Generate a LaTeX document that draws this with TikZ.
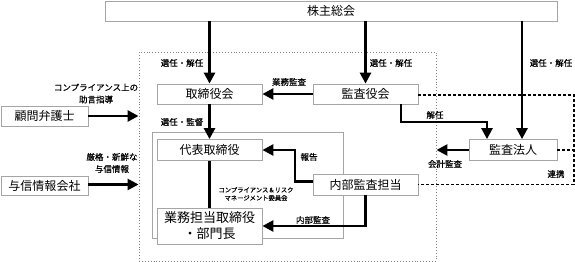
\documentclass[tikz,border=0pt]{standalone}
\usepackage{fontspec}
\setmainfont{Noto Sans CJK JP}
\newfontfamily\lblfont[FakeBold=0.4]{Noto Sans CJK JP}
\usetikzlibrary{arrows.meta}
\definecolor{boxgray}{RGB}{165,165,165}
\definecolor{dotgray}{RGB}{130,130,130}
\begin{document}
\begin{tikzpicture}[x=1pt,y=-1pt,
  box/.style={draw=boxgray, line width=0.8pt, fill=white, inner sep=0pt, align=center, font=\fontsize{12}{14}\selectfont},
  arr/.style={line width=2.6pt, -{Triangle[length=11pt,width=11pt]}},
  plainln/.style={line width=2.6pt},
  lbl/.style={inner sep=0pt, align=center, font=\lblfont\fontsize{8.5}{12}\selectfont},
  tiny/.style={inner sep=0pt, align=center, font=\lblfont\fontsize{6.3}{8}\selectfont},
  link/.style={line width=1.5pt, dash pattern=on 3pt off 2pt}]
\useasboundingbox (0,0) rectangle (575,262);
% frames
\node[draw=dotgray, line width=0.9pt, dotted, minimum width=297pt, minimum height=209pt, inner sep=0pt] (outer) at (287.5,156.5) {};
\node[draw=boxgray, line width=0.8pt, minimum width=191pt, minimum height=106pt, inner sep=0pt] (inner) at (247.5,185) {};
% boxes
\node[box, minimum width=452pt, minimum height=20pt] (kabu) at (331,11) {株主総会};
\node[box, minimum width=105pt, minimum height=20pt] (tori) at (209.5,94) {取締役会};
\node[box, minimum width=105pt, minimum height=20pt] (kansa) at (365.5,94) {監査役会};
\node[box, minimum width=105pt, minimum height=21pt] (daihyo) at (209.5,150) {代表取締役};
\node[box, minimum width=105pt, minimum height=36pt, font=\fontsize{13}{16}\selectfont] (gyomu) at (209.5,226) {業務担当取締役\\・部門長};
\node[box, minimum width=105pt, minimum height=21pt] (naibu) at (365.5,184.5) {内部監査担当};
\node[box, minimum width=88pt, minimum height=21pt] (hojin) at (513,150) {監査法人};
\node[box, minimum width=87pt, minimum height=20pt] (komon) at (44.5,116) {顧問弁護士};
\node[box, minimum width=87pt, minimum height=19pt] (yoshin) at (44.5,186) {与信情報会社};
% helper coordinates
\coordinate (c1) at (401,122);
\coordinate (c2) at (487,122);
\coordinate (c3) at (522,60);
\coordinate (c4) at (295,150);
\coordinate (c5) at (574,95);
% arrows
\draw[arr] (kabu.south -| tori) -- (tori.north);
\draw[arr] (kabu.south -| kansa) -- (kansa.north);
\draw[arr] (kabu.south -| c3) -- (hojin.north -| c3);
\draw[arr] (kansa.west) -- (tori.east);
\draw[arr] (kansa.south -| c1) -- (c1) -- (c2) -- (hojin.north -| c2);
\draw[arr] (hojin.west) -- (hojin.west -| outer.east);
\draw[arr] (tori.south) -- (daihyo.north);
\draw[plainln] (daihyo.south) -- (gyomu.north);
\draw[arr] ([yshift=3pt]naibu.west) -| (c4) -- (daihyo.east);
\draw[arr] (naibu.south) |- (gyomu.east);
\draw[arr] (komon.east) -- (komon.east -| outer.west);
\draw[arr] ([yshift=1.5pt]yoshin.east) -- ([yshift=1.5pt]yoshin.east -| outer.west);
% dashed links
\draw[link] (kansa.east |- c5) -- (c5) -- (c5 |- naibu.east) -- (naibu.east);
\draw[link] (hojin.east) -- (hojin.east -| c5);
% labels
\node[lbl] (l1) at (182,63) {選任・解任};
\node[lbl] (l2) at (391,63) {選任・解任};
\node[lbl] (l3) at (551,63) {選任・解任};
\node[lbl] (l4) at (289,82) {業務監査};
\node[lbl] (l5) at (182,122) {選任・監督};
\node[lbl] (l6) at (435,115) {解任};
\node[lbl] (l7) at (445,164) {会計監査};
\node[lbl] (l8) at (309,157) {報告};
\node[lbl] (l9) at (313,220) {内部監査};
\node[lbl] (l10) at (556,174) {連携};
\node[tiny] (l11) at (256,194) {コンプライアンス＆リスク\\マネージメント委員会};
\node[lbl] (l12) at (96,93.5) {コンプライアンス上の\\助言指導};
\node[lbl] (l13) at (112,163) {厳格・新鮮な\\与信情報};
\end{tikzpicture}
\end{document}
